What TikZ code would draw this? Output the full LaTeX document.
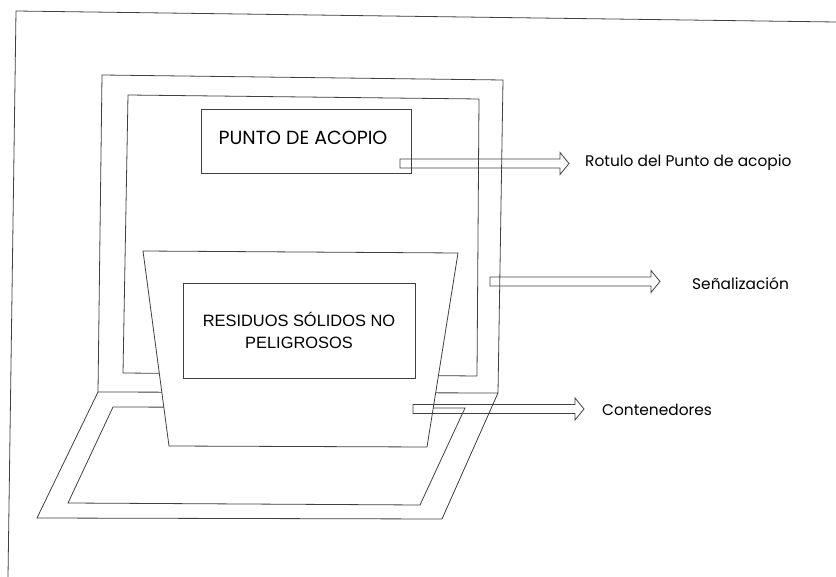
\documentclass[tikz,border=0pt]{standalone}
\usepackage{fontspec}
\setmainfont{Poppins}
\newfontfamily\arialf{Liberation Sans}
\usetikzlibrary{calc}
\tikzset{
  edge/.style={draw=black!75, line width=0.8pt, line join=miter},
  box/.style={edge, fill=white, inner sep=0pt, align=center, text=black},
  hollowarrow/.style={edge, to path={let \p1=(\tikztostart), \p2=(\tikztotarget) in
     (\x1,\y1+4.5pt) -- (\x2-9pt,\y1+4.5pt) -- (\x2-9pt,\y1+11pt) -- (\x2,\y1)
     -- (\x2-9pt,\y1-11pt) -- (\x2-9pt,\y1-4.5pt) -- (\x1,\y1-4.5pt) -- cycle}},
  lbl/.style={font=\fontsize{15.4}{18}\selectfont, anchor=west, inner sep=0pt, text=black},
}
\begin{document}
\begin{tikzpicture}[x=1pt,y=-1pt]
\useasboundingbox (0,0) rectangle (836,577);
% outer frame
\draw[edge] (836,22) -- (16,11) -- (8,577);
% back panel
\draw[edge] (102,75) -- (503,80) -- (498,393) -- (98,392) -- cycle;
\draw[edge] (128,95) -- (479,99) -- (477,376) -- (123,373) -- cycle;
% floor
\draw[edge] (98,392) -- (37,518) -- (442,519) -- (498,393);
\draw[edge] (113,407) -- (68,503) -- (420,505) -- (465,408) -- cycle;
% sign
\node[box, minimum width=210pt, minimum height=64pt] (punto) at (306,141) {};
\node[inner sep=0pt, text=black, font=\fontsize{19}{22}\selectfont] (puntotxt) at (303,138) {PUNTO DE ACOPIO};
% container
\draw[edge, fill=white] (143,251) -- (458,253) -- (427,447) -- (169,446) -- cycle;
\node[box, minimum width=232pt, minimum height=95pt, font=\arialf\fontsize{16.4}{22}\selectfont] (res) at (299,330.5) {RESIDUOS SÓLIDOS NO\\PELIGROSOS};
% arrows and labels
\coordinate (a1s) at (400,163.5);
\coordinate (a1e) at (569,163.5);
\coordinate (a2s) at (490,281.5);
\coordinate (a2e) at (660,281.5);
\coordinate (a3s) at (413,409);
\coordinate (a3e) at (584,409);
\node[lbl] (l1) at (585,163) {Rotulo del Punto de acopio};
\node[lbl] (l2) at (692,283) {Señalización};
\node[lbl] (l3) at (602,410) {Contenedores};
\draw[hollowarrow] (a1s) to (a1e);
\draw[hollowarrow] (a2s) to (a2e);
\draw[hollowarrow] (a3s) to (a3e);
\end{tikzpicture}
\end{document}
